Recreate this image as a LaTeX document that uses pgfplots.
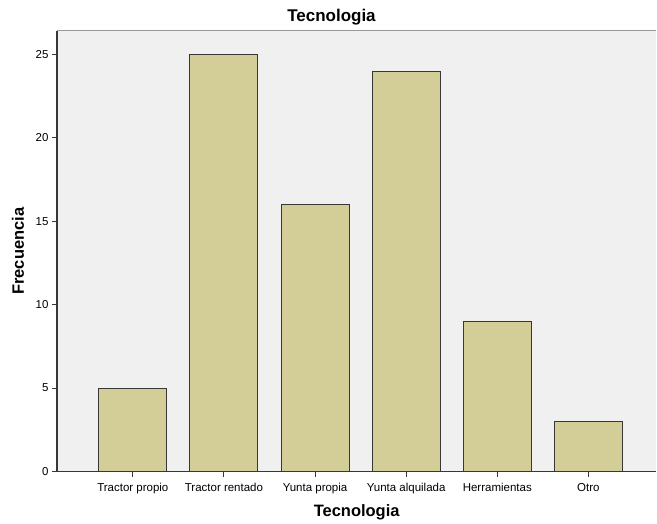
\documentclass[border=0pt]{standalone}
\usepackage{fontspec}
\setmainfont{Liberation Sans}
\usepackage{pgfplots}
\pgfplotsset{compat=1.18}
\definecolor{barfill}{RGB}{211,206,152}
\definecolor{plotbg}{RGB}{240,240,240}
\definecolor{edge}{RGB}{55,55,55}
\begin{document}
\begin{tikzpicture}[x=1pt,y=1pt]
\path (-57,-49) rectangle (600,472);
\begin{axis}[
	at={(0,0)}, anchor=south west,
	scale only axis, width=600pt, height=441pt,
	xmin=-0.833, xmax=5.746,
	ymin=0, ymax=26.4,
	axis background/.style={fill=plotbg},
	axis x line*=bottom, axis y line*=left,
	axis line style={-, edge, line width=1.3pt},
	xtick={0,...,5},
	xticklabels={Tractor propio, Tractor rentado, Yunta propia, Yunta alquilada, Herramientas, Otro},
	ytick={0,5,...,25},
	tick align=outside, major tick length=5pt,
	tick style={edge, line width=1pt},
	/pgf/number format/assume math mode=true,
	xticklabel style={font=\fontsize{11.5}{13}\selectfont, text height=8.5pt, text depth=2.5pt, yshift=-3pt},
	yticklabel style={font=\fontsize{11.5}{13}\selectfont},
	title={\bfseries Tecnologia},
	title style={font=\fontsize{17}{19}\selectfont, at={(axis description cs:0.458,1)}, anchor=center, yshift=8pt},
	xlabel={\bfseries Tecnologia},
	xlabel style={font=\fontsize{16.5}{19}\selectfont, at={(axis description cs:0.5,0)}, anchor=center, yshift=-41pt},
	ylabel={\bfseries Frecuencia},
	ylabel style={font=\fontsize{16.5}{19}\selectfont, at={(axis description cs:-0.065,0.5)}, anchor=center},
]
\addplot[ybar, bar width=68pt, fill=barfill, draw=edge, line width=1pt]
	coordinates {(0,5)(1,25)(2,16)(3,24)(4,9)(5,3)};
\draw[gray!80, line width=1pt] (rel axis cs:0,1) -- (rel axis cs:1,1);
\end{axis}
\end{tikzpicture}
\end{document}
